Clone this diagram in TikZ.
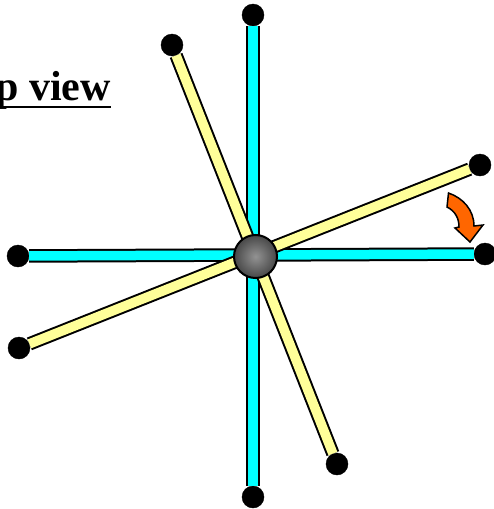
\documentclass[tikz,border=0pt]{standalone}
\usepackage{fontspec}
\setmainfont{Liberation Serif}
\usepackage{tikz}
\definecolor{rodcyan}{RGB}{0,255,255}
\definecolor{rodyellow}{RGB}{255,255,153}
\definecolor{arroworange}{RGB}{255,102,0}

\begin{document}
\begin{tikzpicture}[
    x=1pt, y=-1pt,
    rodfixed/.style={draw=black, line width=2pt, double=rodcyan, double distance=9.5pt},
    rodmoved/.style={draw=black, line width=2pt, double=rodyellow, double distance=9.5pt},
    tip/.style={draw=black, fill=black, circle, inner sep=0pt, minimum size=22pt},
    hubball/.style={draw=black, line width=2pt, circle, inner sep=0pt, minimum size=43pt, shading=radial, inner color=gray!85, outer color=black!72},
    lab/.style={font=\fontsize{42}{50}\selectfont\bfseries, inner sep=0pt}
]
    \useasboundingbox (0,0) rectangle (493,509);

    % Titulo
    \node[lab, anchor=base east] (title) at (111,100) {p view};
    \draw[line width=1.8pt] (0,107) -- (title.base east |- 0,107);

    % Extremos
    \node[tip] (fixedn) at (253,15) {};
    \node[tip] (fixeds) at (253,497) {};
    \node[tip] (fixedw) at (18,256) {};
    \node[tip] (fixede) at (485,254) {};
    \node[tip] (movedn) at (172,45) {};
    \node[tip] (moveds) at (337,464) {};
    \node[tip] (movede) at (480,165) {};
    \node[tip] (movedw) at (19,348) {};

    % Brazos
    \draw[rodfixed] (fixedn) -- (fixeds);
    \draw[rodfixed] (fixedw) -- (fixede);
    \draw[rodmoved] (movedn) -- (moveds);
    \draw[rodmoved] (movede) -- (movedw);

    % Centro
    \node[hubball] (hub) at (255.5,256.5) {};

    % Flecha de giro
    \draw[draw=black, line width=1.5pt, fill=arroworange, line join=miter]
        (448.5,193) .. controls (463,198) and (474,210) .. (474,226)
        -- (483,225) -- (470,242) -- (455,228) -- (459,227)
        .. controls (459,218) and (455,211) .. (447,207) -- cycle;
\end{tikzpicture}
\end{document}
